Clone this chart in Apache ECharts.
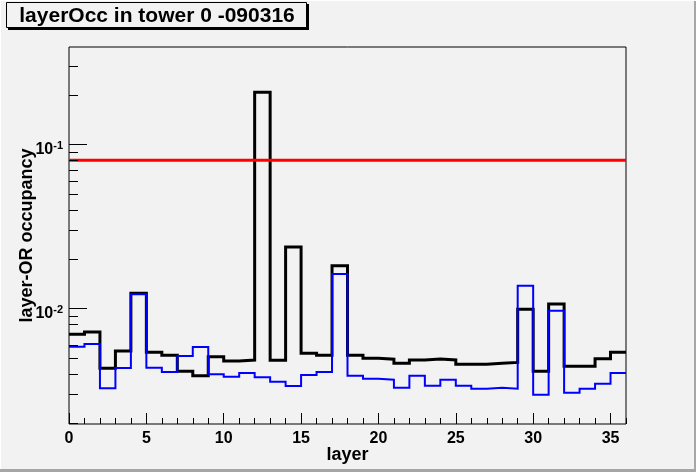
<!DOCTYPE html>
<html>
<head>
<meta charset="utf-8">
<title>layerOcc in tower 0 -090316</title>
<script src="https://cdn.jsdelivr.net/npm/echarts@6/dist/echarts.min.js"></script>
<style>
    html, body { margin: 0; padding: 0; background: #f2f2f2; }
    #main { width: 696px; height: 472px; }
</style>
</head>
<body>
<div id="main"></div>
<script>
// bin lower edges (layer 0..35), bin width 1
var layers = [0,1,2,3,4,5,6,7,8,9,10,11,12,13,14,15,16,17,18,19,20,21,22,23,24,25,26,27,28,29,30,31,32,33,34,35];
var layerEnd = 36;
// black histogram
var occBlack = [0.00694,0.00717,0.00431,0.00549,0.01234,0.00539,0.00517,0.00413,0.00388,0.00507,
    0.00477,0.00484,0.2075,0.00482,0.02365,0.00532,0.00517,0.01819,0.00517,0.00496,
    0.00489,0.00462,0.00484,0.00491,0.00484,0.00456,0.00456,0.00462,0.00468,0.00986,
    0.00413,0.01062,0.00443,0.00443,0.00493,0.00539];
// blue histogram
var occBlue = [0.00583,0.00606,0.00325,0.00433,0.01217,0.00434,0.00409,0.00512,0.00581,0.00396,
    0.00383,0.00403,0.00380,0.00357,0.00336,0.00392,0.00409,0.01619,0.00388,0.00372,
    0.00367,0.00328,0.00388,0.00337,0.00367,0.00337,0.00323,0.00328,0.00323,0.01373,
    0.00297,0.00967,0.00306,0.00323,0.00347,0.00403];
// red threshold line
var threshold = 0.08;
var yMin = 0.00197, yMax = 0.392;
var xMajorStep = 5;

var FONT = "'Liberation Sans', Arial, Helvetica, sans-serif";

// histogram outline: one point per bin edge, drawn as a step line
function histPoints (vals) {
    var pts = [];
    for (var i = 0; i < layers.length; i++) {
        pts.push([layers[i], vals[i]]);
    }
    pts.push([layerEnd, vals[vals.length - 1]]);
    return pts;
}

var chart = echarts.init(document.getElementById("main"), null, {renderer: "canvas"});

var xBase = {
    type: "value",
    min: 0,
    max: layerEnd,
    position: "bottom",
    axisLine: {show: false},
    splitLine: {show: false}
};

var option = {
    backgroundColor: "#f2f2f2",
    animation: false,
    grid: {
        left: 69,
        right: 70,
        top: 47,
        bottom: 48,
        show: true,
        borderColor: "#000",
        borderWidth: 1,
        backgroundColor: "transparent"
    },
    xAxis: [
        Object.assign({}, xBase, {
            interval: 1,
            axisTick: {inside: true, length: 6, lineStyle: {color: "#000", width: 1}},
            axisLabel: {show: false}
        }),
        Object.assign({}, xBase, {
            interval: xMajorStep,
            axisTick: {inside: true, length: 11, lineStyle: {color: "#000", width: 1}},
            axisLabel: {
                show: true,
                showMaxLabel: false,
                margin: 7,
                color: "#000",
                fontFamily: FONT,
                fontWeight: "bold",
                fontSize: 16
            },
            name: "layer",
            nameLocation: "middle",
            nameGap: 22,
            nameMoveOverlap: false,
            nameTextStyle: {color: "#000", fontFamily: FONT, fontWeight: "bold", fontSize: 18}
        })
    ],
    yAxis: {
        type: "log",
        logBase: 10,
        min: yMin,
        max: yMax,
        axisLine: {show: false},
        axisTick: {show: false},
        splitLine: {show: false},
        axisLabel: {
            show: true,
            margin: 6,
            padding: [10, 0, 0, 0],
            formatter: function (v) {
                var lg = Math.log(v) / Math.LN10;
                var e = Math.round(lg);
                if (Math.abs(lg - e) > 1e-6) {
                    return "";
                }
                return "{b|10}{s|" + e + "}";
            },
            rich: {
                b: {color: "#000", fontFamily: FONT, fontWeight: "bold", fontSize: 16, lineHeight: 18},
                s: {color: "#000", fontFamily: FONT, fontWeight: "bold", fontSize: 11, verticalAlign: "top", lineHeight: 18, padding: [0, 0, 8, 0]}
            }
        },
        name: "layer-OR occupancy",
        nameLocation: "middle",
        nameRotate: 90,
        nameGap: 33,
        nameMoveOverlap: false,
        nameTextStyle: {color: "#000", fontFamily: FONT, fontWeight: "bold", fontSize: 18}
    },
    series: [
        {
            name: "black",
            type: "line",
            xAxisIndex: 0,
            step: "end",
            symbol: "none",
            data: histPoints(occBlack),
            lineStyle: {color: "#000", width: 3, join: "miter"},
            z: 3
        },
        {
            name: "blue",
            type: "line",
            xAxisIndex: 0,
            step: "end",
            symbol: "none",
            data: histPoints(occBlue),
            lineStyle: {color: "#0000ff", width: 2, join: "miter"},
            z: 4
        },
        {
            name: "threshold",
            type: "line",
            xAxisIndex: 0,
            symbol: "none",
            data: [[0, threshold], [layerEnd, threshold]],
            lineStyle: {color: "#ff0000", width: 3},
            z: 5
        }
    ]
};

chart.setOption(option);

// log-axis ticks (ROOT style: long at decades, short at 2..9)
var graphics = [];
var x0 = 69;
for (var k = -3; k <= 0; k++) {
    for (var m = 1; m <= 9; m++) {
        var v = m * Math.pow(10, k);
        if (v <= yMin || v >= yMax) continue;
        var py = Math.round(chart.convertToPixel({yAxisIndex: 0}, v)) + 0.5;
        var len = m === 1 ? 18 : 9;
        graphics.push({
            type: "line",
            z: 10,
            shape: {x1: x0, y1: py, x2: x0 + len, y2: py},
            style: {stroke: "#000", lineWidth: 1}
        });
    }
}

// title box with shadow
graphics.push({
    type: "rect", z: 10,
    shape: {x: 8, y: 4, width: 301, height: 26},
    style: {fill: "#000"}
});
graphics.push({
    type: "rect", z: 11,
    shape: {x: 6.5, y: 2.5, width: 300, height: 25},
    style: {fill: "#f2f2f2", stroke: "#000", lineWidth: 1}
});
graphics.push({
    type: "text", z: 12,
    x: 157, y: 16,
    style: {
        text: "layerOcc in tower 0 -090316",
        fill: "#000",
        font: "bold 21px " + FONT,
        textAlign: "center",
        textVerticalAlign: "middle"
    }
});

// canvas bevel
graphics.push({type: "rect", z: 1, shape: {x: 0, y: 469, width: 696, height: 3}, style: {fill: "#a6a6a6"}});
graphics.push({type: "rect", z: 1, shape: {x: 694, y: 0, width: 2, height: 472}, style: {fill: "#a6a6a6"}});
graphics.push({type: "rect", z: 1, shape: {x: 0, y: 0, width: 696, height: 1}, style: {fill: "#ffffff"}});
graphics.push({type: "rect", z: 1, shape: {x: 0, y: 0, width: 1, height: 469}, style: {fill: "#ffffff"}});

chart.setOption({graphic: graphics});
</script>
</body>
</html>
